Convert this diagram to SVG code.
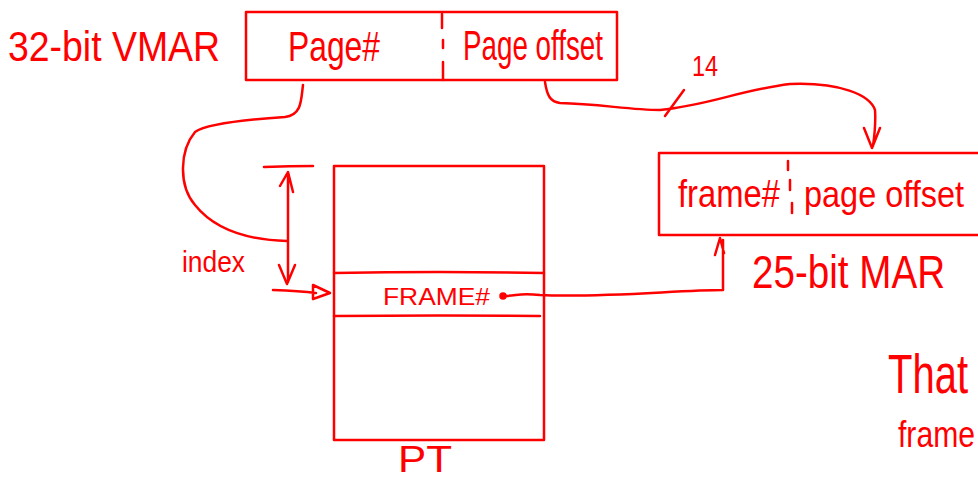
<svg xmlns="http://www.w3.org/2000/svg" width="978" height="480" viewBox="0 0 978 480">
<defs>
<style>
.s{fill:none;stroke:#f00;stroke-width:2.5;stroke-linecap:round;stroke-linejoin:round}
.t{fill:#f00;font-family:"Liberation Sans","DejaVu Sans",sans-serif;font-weight:normal}
</style>
</defs>
<rect width="978" height="480" fill="#fff"/>
<g id="vmar">
<rect class="s" x="246" y="12" width="371" height="68"/>
<path class="s" d="M442 14V28M443 40V48M443 62V80"/>
<text class="t" x="8" y="61" font-size="42" textLength="212" lengthAdjust="spacingAndGlyphs">32-bit VMAR</text>
<text class="t" x="288" y="61" font-size="42" textLength="92" lengthAdjust="spacingAndGlyphs">Page#</text>
<text class="t" x="463" y="60" font-size="42" textLength="140" lengthAdjust="spacingAndGlyphs">Page offset</text>
</g>
<g id="pt">
<rect class="s" x="334" y="166" width="210" height="274"/>
<path class="s" d="M334 273Q440 271 544 273M334 316Q440 315 540 316"/>
<text class="t" x="383" y="305" font-size="23" textLength="107" lengthAdjust="spacingAndGlyphs">FRAME#</text>
<text class="t" x="398" y="472" font-size="36" textLength="54" lengthAdjust="spacingAndGlyphs">PT</text>
</g>
<g id="mar">
<path class="s" d="M978 153H659V235H978"/>
<path class="s" d="M788 161V170M790 180V190M792 203V213"/>
<text class="t" x="678" y="207" font-size="38" textLength="102" lengthAdjust="spacingAndGlyphs">frame#</text>
<text class="t" transform="translate(804,207) scale(1,1.18)" font-size="32" textLength="160" lengthAdjust="spacingAndGlyphs">page offset</text>
<text class="t" transform="translate(752,288) scale(1,1.2)" font-size="38" textLength="193" lengthAdjust="spacingAndGlyphs">25-bit MAR</text>
</g>
<g id="labels">
<text class="t" x="182" y="272" font-size="30" textLength="63" lengthAdjust="spacingAndGlyphs">index</text>
<text class="t" x="692" y="76" font-size="30" textLength="26" lengthAdjust="spacingAndGlyphs">14</text>
<text class="t" transform="translate(888,393) scale(1,1.4)" font-size="40" textLength="80" lengthAdjust="spacingAndGlyphs">That</text>
<text class="t" transform="translate(898,447) scale(1,1.25)" font-size="30" textLength="77" lengthAdjust="spacingAndGlyphs">frame</text>
</g>
<g id="connectors">
<path class="s" d="M303 85C301 100 302 115 285 117C240 120 205 125 195 132C180 150 178 185 195 205C215 230 250 240 287 241"/>
<path class="s" d="M264 167Q290 166 313 166"/>
<path class="s" d="M288 173V282M280 186L288 172L293 192M279 265L287 284L295 265"/>
<path class="s" d="M273 290Q300 291 316 293M313 285L330 293L313 299Z"/>
<circle cx="503" cy="296" r="3" fill="#f00" stroke="#f00" stroke-width="1.5"/>
<path class="s" d="M506 296C520 295 520 293 540 295C600 298 680 290 723 290V240M715 255L720 238L724 253"/>
<path class="s" d="M545 82C547 95 550 102 560 103C600 104 630 110 660 110C710 105 740 90 790 84C840 82 870 95 875 110Q876 125 873 146M864 128L872 148L880 128"/>
<path class="s" d="M665 116L684 90"/>
</g>
</svg>
